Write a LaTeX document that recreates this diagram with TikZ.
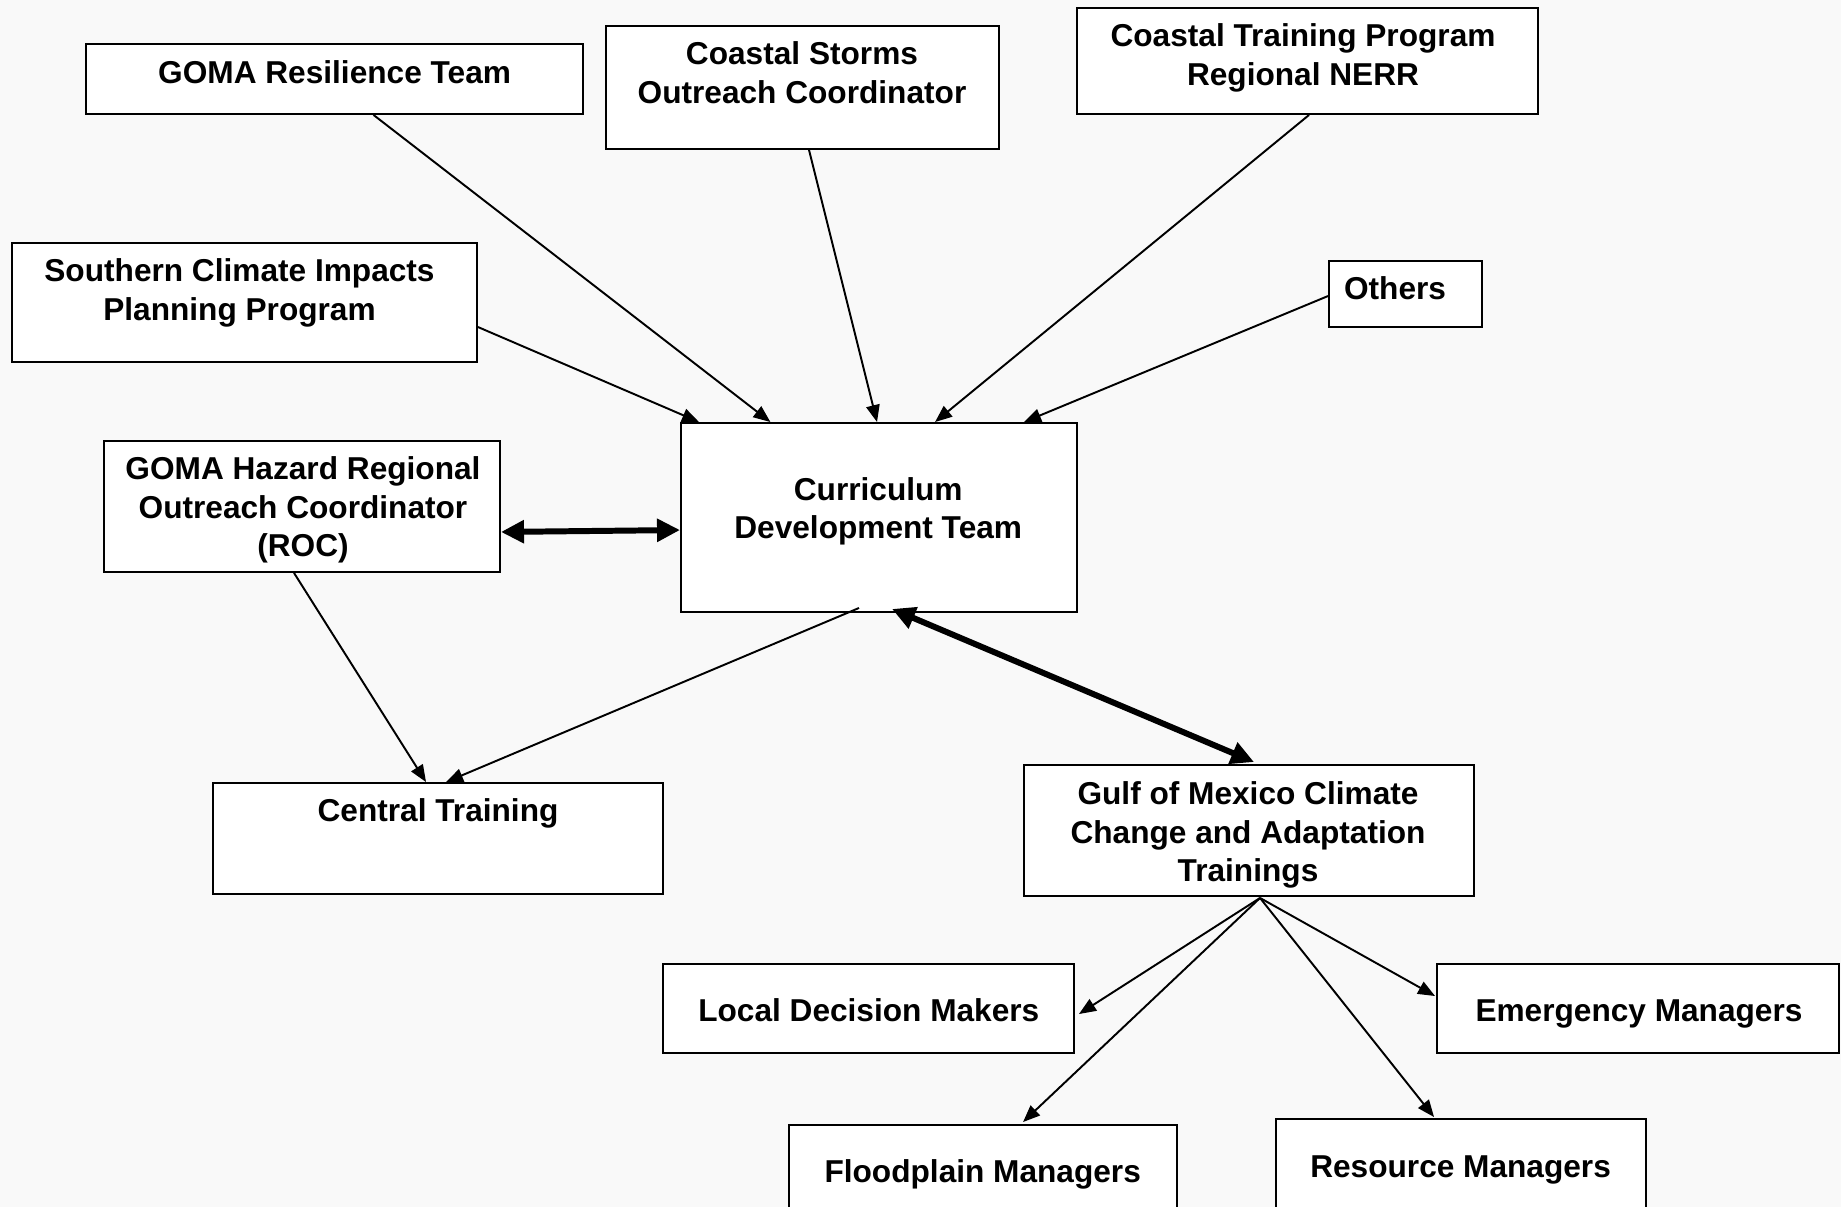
\documentclass[tikz,border=0pt]{standalone}
\usepackage{fontspec}
\setmainfont{Liberation Sans}
\usetikzlibrary{arrows.meta,calc,fit}
\begin{document}
\begin{tikzpicture}[x=0.2mm,y=-0.2mm,
  box/.style={draw=black, fill=white, line width=1.1pt, inner sep=0pt},
  lbl/.style={inner sep=0pt, align=center, font=\fontsize{18}{22}\selectfont\bfseries},
  arr/.style={line width=1.1pt, -{Triangle[length=3.4mm,width=2.7mm]}},
  dbl/.style={line width=3.4pt, {Triangle[length=4.6mm,width=4.4mm]}-{Triangle[length=4.6mm,width=4.4mm]}}]
\useasboundingbox (0,0) rectangle (1841,1207);
\clip (0,0) rectangle (1841,1207);
\fill[gray!5] (0,0) rectangle (1841,1207);

% boxes
\node[box, fit={(86,44) (583,114)}] (b1) {};
\node[box, fit={(606,26) (999,149)}] (b2) {};
\node[box, fit={(1077,8) (1538,114)}] (b3) {};
\node[box, fit={(12,243) (477,362)}] (b4) {};
\node[box, fit={(1329,261) (1482,327)}] (b5) {};
\node[box, fit={(681,423) (1077,612)}] (b6) {};
\node[box, fit={(104,441) (500,572)}] (b7) {};
\node[box, fit={(213,783) (663,894)}] (b8) {};
\node[box, fit={(1024,765) (1474,896)}] (b9) {};
\node[box, fit={(663,964) (1074,1053)}] (b10) {};
\node[box, fit={(1437,964) (1839,1053)}] (b11) {};
\node[box, fit={(789,1125) (1177,1220)}] (b12) {};
\node[box, fit={(1276,1119) (1646,1220)}] (b13) {};

% labels
\node[lbl] (t1) at (334.6,75.6) {\strut GOMA Resilience Team};
\node[lbl] (t2) at (802,76) {\strut Coastal Storms\\\strut Outreach Coordinator};
\node[lbl] (t3) at (1303,58.6) {\strut Coastal Training Program\\\strut Regional NERR};
\node[lbl] (t4) at (239.5,293.4) {\strut Southern Climate Impacts\\\strut Planning Program};
\node[lbl] (t5) at (1395,291.6) {\strut Others};
\node[lbl] (t6) at (878.2,511.8) {\strut Curriculum\\\strut Development Team};
\node[lbl] (t7) at (303,510.6) {\strut GOMA Hazard Regional\\\strut Outreach Coordinator\\\strut (ROC)};
\node[lbl] (t8) at (438,814.1) {\strut Central Training};
\node[lbl] (t9) at (1248,835.3) {\strut Gulf of Mexico Climate\\\strut Change and Adaptation\\\strut Trainings};
\node[lbl] (t10) at (868.8,1013.7) {\strut Local Decision Makers};
\node[lbl] (t11) at (1639,1013.7) {\strut Emergency Managers};
\node[lbl] (t12) at (982.7,1174.6) {\strut Floodplain Managers};
\node[lbl] (t13) at (1460.6,1169.9) {\strut Resource Managers};

% connectors into Curriculum Development Team
\draw[arr] ($(b1.south west)+(288.5,0)$) -- ($(b6.north west)+(90.4,0)$);
\draw[arr] ($(b2.south west)+(204,0)$) -- ($(b6.north west)+(197,0)$);
\draw[arr] ($(b3.south west)+(233,0)$) -- ($(b6.north west)+(255,0)$);
\draw[arr] ($(b4.north east)+(0,85)$) -- ($(b6.north west)+(19,0)$);
\draw[arr] ($(b5.north west)+(0,36)$) -- ($(b6.north west)+(344,0)$);
% ROC <-> Curriculum
\draw[dbl] ($(b7.south east)+(0,-41)$) -- ($(b6.north west)+(0,108)$);
% to Central Training
\draw[arr] ($(b7.south west)+(191,0)$) -- ($(b8.north west)+(214,0)$);
\draw[arr] ($(b6.south west)+(179,-5)$) -- ($(b8.north west)+(234,0)$);
% Curriculum <-> Gulf
\draw[dbl] ($(b6.south west)+(212,-4)$) -- ($(b9.north west)+(231,-2)$);
% fan from Gulf
\coordinate (fan) at ($(b9.south west)+(237,1)$);
\draw[arr] (fan) -- ($(b10.north east)+(4,51)$);
\draw[arr] (fan) -- ($(b12.north west)+(235,-2)$);
\draw[arr] (fan) -- ($(b13.north west)+(159,-1)$);
\draw[arr] (fan) -- ($(b11.north west)+(-1,33)$);
\end{tikzpicture}
\end{document}
